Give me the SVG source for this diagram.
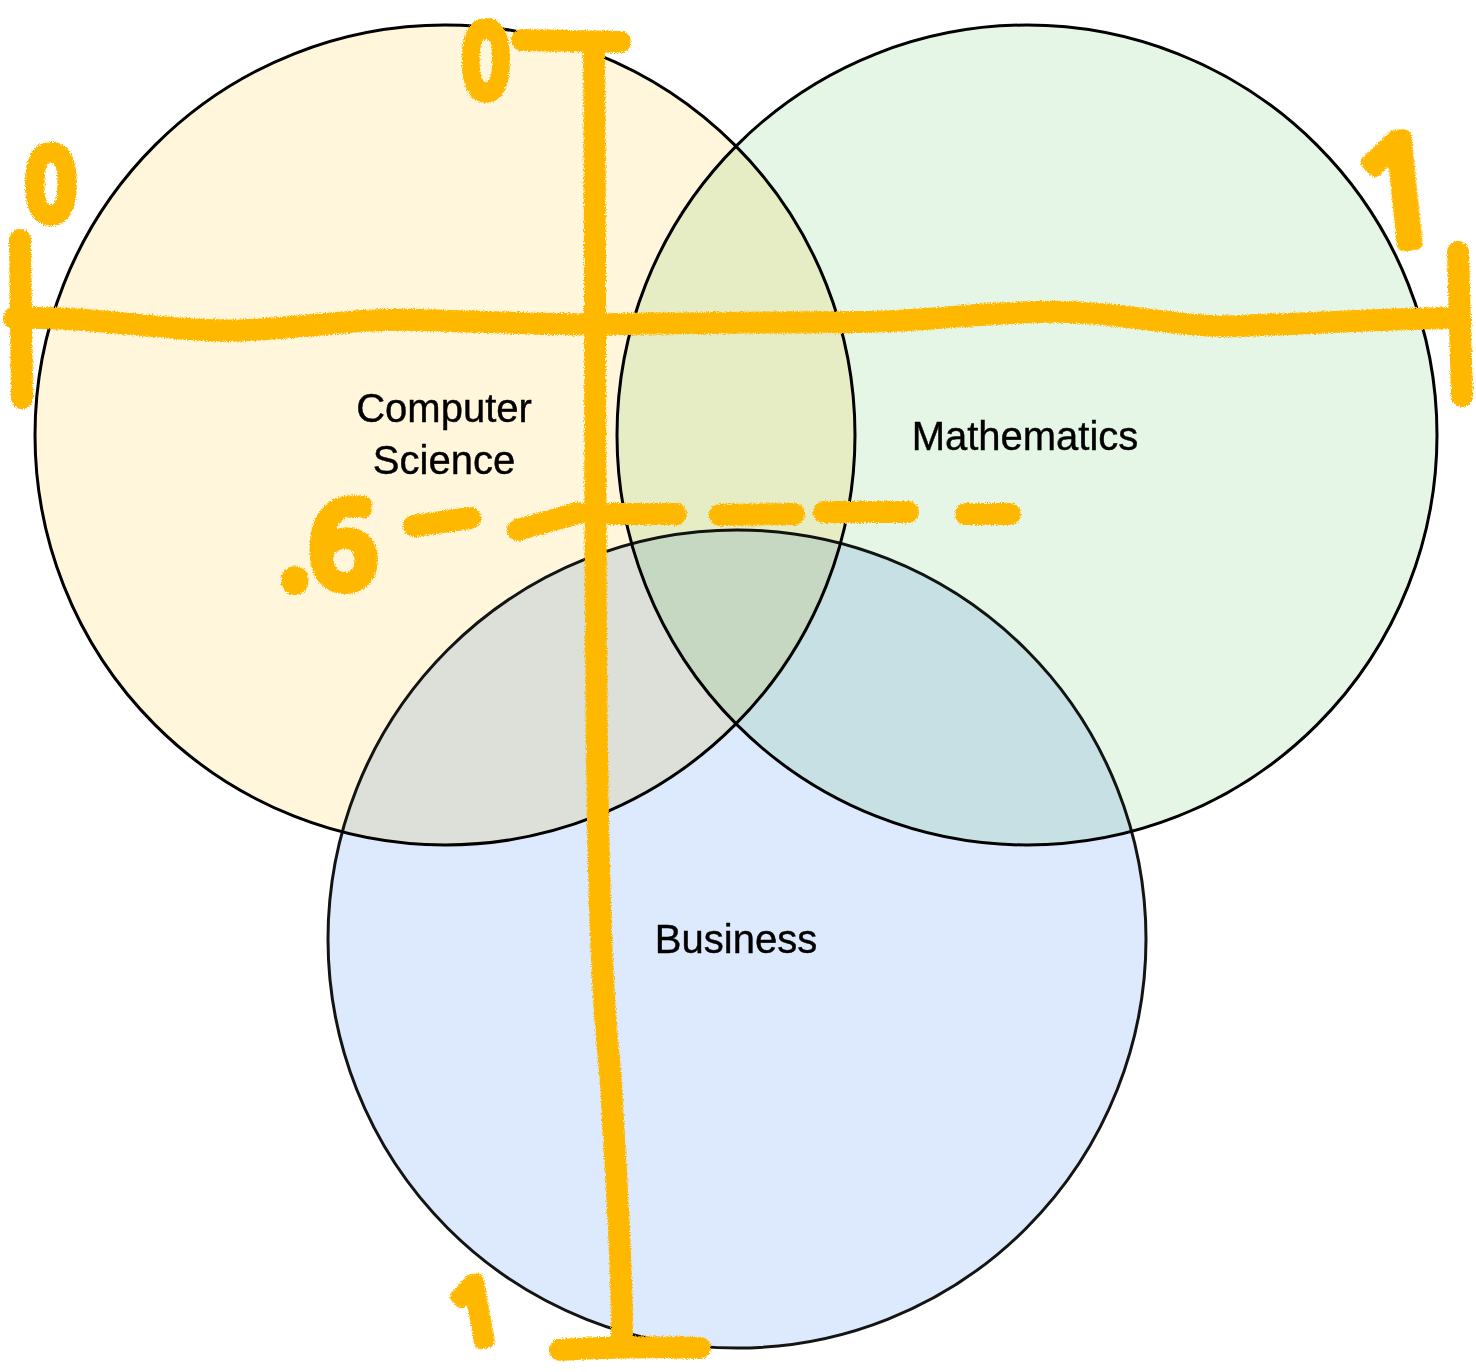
<svg xmlns="http://www.w3.org/2000/svg" width="1476" height="1372" viewBox="0 0 1476 1372">
  <style>
    .set { stroke: #000; stroke-width: 3; mix-blend-mode: multiply; }
    .lbl { font-family: "Liberation Sans", Arial, sans-serif; font-size: 40px; fill: #000; stroke: #000; stroke-width: 0.4; text-anchor: middle; }
    .mk { fill: none; stroke: #FFB800; stroke-width: 22; stroke-linecap: round; stroke-linejoin: round; }
    .hand { font-family: "Open Sans", "Liberation Sans", sans-serif; fill: #FFB800; stroke: #FFB800; stroke-width: 14; stroke-linejoin: round; stroke-linecap: round; text-anchor: middle; }
    .zero { font-family: "Liberation Sans", Arial, sans-serif; }
  </style>
  <defs>
    <filter id="rough" x="-5%" y="-5%" width="110%" height="110%">
      <feTurbulence type="fractalNoise" baseFrequency="0.9" numOctaves="2" seed="3" result="n"/>
      <feDisplacementMap in="SourceGraphic" in2="n" scale="5" xChannelSelector="R" yChannelSelector="G"/>
    </filter>
  </defs>
  <rect width="1476" height="1372" fill="#fff"/>

  <g id="node-cs">
    <circle class="set" cx="445" cy="435" r="410" fill="#fff6db"/>
  </g>
  <g id="node-math">
    <circle class="set" cx="1027" cy="435" r="410" fill="#e6f6e6"/>
  </g>
  <g id="node-business">
    <circle class="set" cx="737" cy="939" r="409" fill="#dae8fc" opacity="0.92"/>
  </g>

  <g id="labels">
    <text class="lbl" x="444" y="422">Computer</text>
    <text class="lbl" x="444" y="474">Science</text>
    <text class="lbl" x="1025" y="450">Mathematics</text>
    <text class="lbl" x="736" y="953">Business</text>
  </g>

  <g id="connectors" filter="url(#rough)">
    <path class="mk" d="M14,318 C100,316 180,334 250,330 S360,318 420,320 S560,325 620,324 S800,322 860,322 S1000,310 1066,312 S1180,328 1240,326 S1400,318 1460,318"/>
    <path class="mk" d="M20,240 L22,398"/>
    <path class="mk" d="M1458,252 L1462,396"/>
    <path class="mk" d="M594,42 C596,300 594,600 598,820 S610,1050 612,1100 S622,1250 622,1335"/>
    <path class="mk" d="M522,40 L620,42"/>
    <path class="mk" d="M560,1350 Q620,1346 700,1348"/>
    <path class="mk" d="M414,526 L470,518"/>
    <path class="mk" d="M518,530 L578,513"/>
    <path class="mk" d="M612,514 L676,514"/>
    <path class="mk" d="M720,515 L794,514"/>
    <path class="mk" d="M824,512 L908,512"/>
    <path class="mk" d="M966,514 L1010,514"/>
  </g>

  <g id="annotations" filter="url(#rough)">
    <text class="hand zero" x="0" y="0" font-size="100" transform="translate(486,95) scale(0.78,1)">0</text>
    <text class="hand zero" x="0" y="0" font-size="98" transform="translate(51,218) scale(0.85,1)">0</text>
    <text class="hand" x="0" y="0" font-size="150" transform="translate(1406,244) rotate(-6)">1</text>
    <text class="hand" x="0" y="0" font-size="86" transform="translate(482,1342) rotate(-10)">1</text>
    <text class="hand" x="328" y="586" font-size="116">.6</text>
  </g>
</svg>
